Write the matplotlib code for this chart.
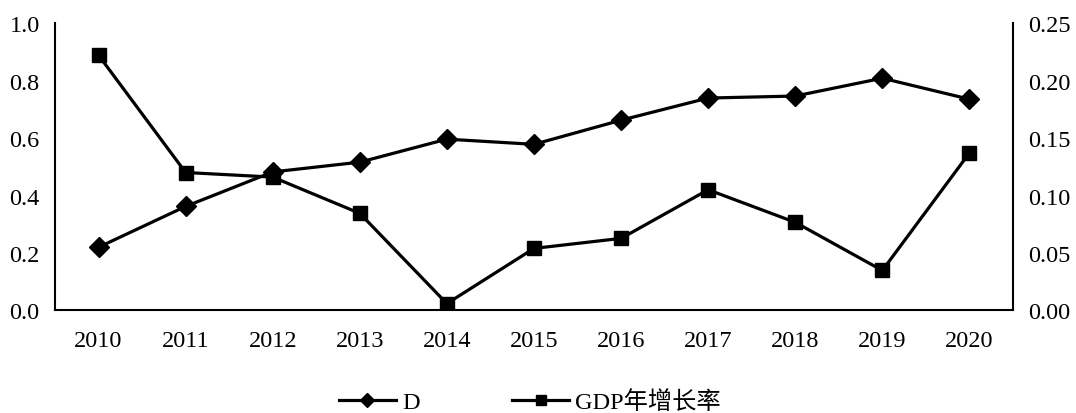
import matplotlib
matplotlib.use("Agg")
import matplotlib.pyplot as plt
from matplotlib.ticker import FormatStrFormatter

plt.rcParams['font.family'] = ['Liberation Serif', 'Noto Sans CJK SC']

years = ['2010', '2011', '2012', '2013', '2014', '2015', '2016', '2017', '2018', '2019', '2020']
d_values = [0.22, 0.362, 0.482, 0.516, 0.596, 0.578, 0.662, 0.739, 0.746, 0.808, 0.735]
gdp_growth = [0.222, 0.120, 0.116, 0.0845, 0.006, 0.054, 0.0627, 0.105, 0.0767, 0.0348, 0.137]
left_ticks = [0.0, 0.2, 0.4, 0.6, 0.8, 1.0]
right_ticks = [0.00, 0.05, 0.10, 0.15, 0.20, 0.25]

fig = plt.figure(figsize=(10.76, 4.14), dpi=100)
ax = fig.add_axes([0.0511, 0.2476, 0.8903, 0.6944])
ax2 = ax.twinx()

x = list(range(len(years)))
l1, = ax.plot(x, d_values, color='black', lw=2.3, marker='D', markersize=10.5, label='D')
l2, = ax2.plot(x, gdp_growth, color='black', lw=2.3, marker='s', markersize=9.5, label='GDP年增长率')

ax.set_xlim(-0.5, len(years) - 0.5)
ax.set_ylim(0, 1.0)
ax2.set_ylim(0, 0.25)
ax.set_yticks(left_ticks)
ax2.set_yticks(right_ticks)
ax.yaxis.set_major_formatter(FormatStrFormatter('%.1f'))
ax2.yaxis.set_major_formatter(FormatStrFormatter('%.2f'))
ax.set_xticks(x)
ax.set_xticklabels(years)

for a in (ax, ax2):
    a.spines['top'].set_visible(False)
    for s in a.spines.values():
        s.set_linewidth(1.5)
        s.set_color('black')
    a.tick_params(length=0, labelsize=17.5, colors='black')
ax.tick_params(axis='y', pad=11)
ax2.tick_params(axis='y', pad=11)
ax.tick_params(axis='x', pad=14)
ax.spines['right'].set_visible(False)
ax2.spines['left'].set_visible(False)
ax2.spines['bottom'].set_visible(False)

fig.legend(handles=[l1, l2], loc='center', bbox_to_anchor=(0.4924, 0.027), ncol=2,
           frameon=False, fontsize=17.5, handlelength=2.35, columnspacing=3.8,
           handletextpad=0.25, borderpad=0, markerscale=0.7)

fig.savefig('out.png', dpi=100)
